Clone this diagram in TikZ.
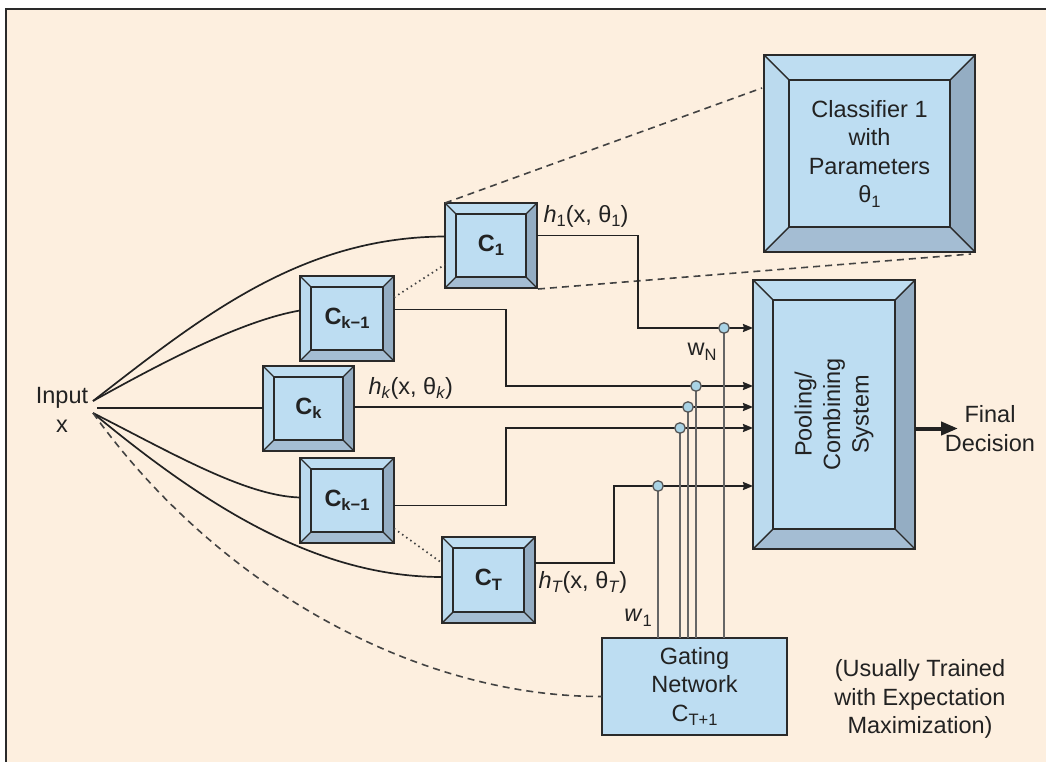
\documentclass[tikz,border=0pt]{standalone}
\usepackage{fontspec}
\setmainfont{Liberation Sans}
\usetikzlibrary{calc,arrows.meta}

\definecolor{paper}{HTML}{FDEFDF}
\definecolor{face}{HTML}{BDDDF2}
\definecolor{bvtop}{HTML}{BEDDF1}
\definecolor{bvleft}{HTML}{BBDAEE}
\definecolor{bvright}{HTML}{94ADC3}
\definecolor{bvbottom}{HTML}{A4BDD3}
\definecolor{ink}{HTML}{222222}
\definecolor{edge}{HTML}{2A2A2A}
\definecolor{gatefill}{HTML}{A9D3E5}
\definecolor{tap}{HTML}{666666}

% text size and lowered subscripts
\newcommand\txt{\fontsize{23.5}{28.5}\selectfont}
\newcommand\lo[1]{\raisebox{-4.5pt}{\fontsize{16.5}{16.5}\selectfont #1}}

% bevelled frame around a named box node, #2 = bevel depth
\newcommand\bevel[2]{%
  \path[fill=bvtop] (#1.north west) -- (#1.north east) -- ($(#1.north east)+(-#2,#2)$) -- ($(#1.north west)+(#2,#2)$) -- cycle;
  \path[fill=bvright] (#1.north east) -- (#1.south east) -- ($(#1.south east)+(-#2,-#2)$) -- ($(#1.north east)+(-#2,#2)$) -- cycle;
  \path[fill=bvbottom] (#1.south west) -- (#1.south east) -- ($(#1.south east)+(-#2,-#2)$) -- ($(#1.south west)+(#2,-#2)$) -- cycle;
  \path[fill=bvleft] (#1.north west) -- (#1.south west) -- ($(#1.south west)+(#2,-#2)$) -- ($(#1.north west)+(#2,#2)$) -- cycle;
  \draw[bvline] (#1.north west) -- ($(#1.north west)+(#2,#2)$)
                (#1.north east) -- ($(#1.north east)+(-#2,#2)$)
                (#1.south east) -- ($(#1.south east)+(-#2,-#2)$)
                (#1.south west) -- ($(#1.south west)+(#2,-#2)$);
  \draw[bvline] ($(#1.north west)+(#2,#2)$) rectangle ($(#1.south east)+(-#2,-#2)$);
  \draw[bvouter] (#1.north west) rectangle (#1.south east);
}

\tikzset{
  every node/.style={font=\txt, text=ink},
  boxnode/.style={rectangle, inner sep=0pt, outer sep=0pt, fill=face, draw=none},
  cbox/.style={boxnode, minimum width=93pt, minimum height=86pt, font=\txt\bfseries},
  bvline/.style={draw=edge, line width=1.4pt},
  bvouter/.style={draw=edge, line width=1.8pt},
  feed/.style={draw=ink, line width=1.7pt},
  wire/.style={draw=ink, line width=1.8pt},
  arrowwire/.style={wire, -{Stealth[length=10pt,width=8pt,inset=1pt]}},
  tapwire/.style={draw=tap, line width=1.7pt},
  tapdot/.style={circle, minimum size=10.5pt, inner sep=0pt, fill=gatefill, draw=edge!80, line width=1.3pt},
  dashline/.style={draw=ink!85, line width=1.6pt, dash pattern=on 7pt off 5pt},
  dotline/.style={draw=ink!85, line width=1.7pt, dash pattern=on 1.5pt off 3.5pt},
}

\begin{document}
\begin{tikzpicture}[x=1pt, y=-1pt]
  % page and panel
  \useasboundingbox (0,0) rectangle (1046,762);
  \fill[white] (0,0) rectangle (1046,762);
  \fill[paper] (6,9) rectangle (1046,762);
  \draw[draw=edge, line width=2pt] (6,762) -- (6,9) -- (1046,9);

  % boxes
  \node[cbox, minimum width=92pt, minimum height=85pt] (C1)  at (491,245.5) {C\lo{1}};
  \node[cbox, minimum width=94pt, minimum height=85pt] (Cku) at (347,318.5) {C\lo{k−1}};
  \node[cbox, minimum width=91pt, minimum height=85pt] (Ck)  at (308.5,408.5) {C\lo{k}};
  \node[cbox, minimum width=94pt, minimum height=85pt] (Ckl) at (347,500.5) {C\lo{k−1}};
  \node[cbox, minimum width=93pt, minimum height=86pt] (CT)  at (488.5,580) {C\lo{T}};
  \node[boxnode, minimum width=211pt, minimum height=197pt, align=center] (cls) at (869.5,153.5)
       {Classifier 1\\with\\Parameters\\θ\lo{1}};
  \node[boxnode, minimum width=162pt, minimum height=269pt] (pool) at (834,414.5) {};
  \node[rectangle, minimum width=185pt, minimum height=97pt, inner sep=0pt, outer sep=0pt,
        fill=face, draw=edge, line width=1.8pt, align=center] (gate) at (694.5,686.5)
       {Gating\\Network\\C\lo{T+1}};

  \bevel{C1}{11}
  \bevel{Cku}{11}
  \bevel{Ck}{11}
  \bevel{Ckl}{11}
  \bevel{CT}{11}
  \bevel{cls}{25}
  \bevel{pool}{20}
  \node[rotate=90, align=center] (pooltxt) at (pool.center) {Pooling/\\Combining\\System};

  % input and its feeds
  \node[align=center] (in) at (62,410) {Input\\x};
  \coordinate (sU) at (93,401);
  \coordinate (sM) at (97,408);
  \coordinate (sL) at (93,413);
  \draw[feed] (sU) .. controls (200,318) and (300,237) .. ($(C1.west)+(0,-9)$);
  \draw[feed] (sU) .. controls (170,358) and (245,320) .. ($(Cku.west)+(0,-8)$);
  \draw[feed] (sM) -- (Ck.west |- sM);
  \draw[feed] (sL) .. controls (170,452) and (245,496) .. ($(Ckl.west)+(0,-3)$);
  \draw[feed] (sL) .. controls (210,510) and (320,577) .. ($(CT.west)+(0,-3)$);
  \draw[dashline] (sL) .. controls (220,590) and (420,697) .. ($(gate.west)+(0,10)$);

  % zoom lines and ellipsis dots
  \draw[dashline] (C1.north west) -- ($(cls.north west)+(-2,33)$);
  \draw[dashline] ($(C1.south east)+(1,1)$) -- ($(cls.south east)+(-4,2)$);
  \draw[dotline] ($(Cku.east)+(0,-21)$) -- ($(C1.west)+(0,19)$);
  \draw[dotline] ($(Ckl.east)+(0,28)$) -- ($(CT.west)+(0,-17)$);

  % gate tap points
  \coordinate (p1) at (658,486);
  \coordinate (p2) at (680,428);
  \coordinate (p3) at (688,407);
  \coordinate (p4) at (696,386);
  \coordinate (p5) at (724,328);

  % classifier outputs into the pooling system
  \draw[arrowwire] ($(C1.east)+(0,-10)$) -- ++(101,0) |- (pool.west |- p5);
  \draw[arrowwire] ($(Cku.east)+(0,-9)$) -- ++(112,0) |- (pool.west |- p4);
  \draw[arrowwire] (Ck.east |- p3) -- (pool.west |- p3);
  \draw[arrowwire] ($(Ckl.east)+(0,5)$) -- ++(112,0) |- (pool.west |- p2);
  \draw[arrowwire] ($(CT.east)+(0,-17)$) -- ++(79,0) |- (pool.west |- p1);

  % gating weights
  \foreach \p in {p1,p2,p3,p4,p5} {
    \draw[tapwire] (gate.north -| \p) -- (\p);
  }
  \node[tapdot] (t1) at (p1) {};
  \node[tapdot] (t2) at (p2) {};
  \node[tapdot] (t3) at (p3) {};
  \node[tapdot] (t4) at (p4) {};
  \node[tapdot] (t5) at (p5) {};

  % final output
  \node[align=center] (out) at (990,428.5) {Final\\Decision};
  \draw[draw=ink, line width=4pt, -{Triangle[length=17pt,width=13pt]}] (pool.east |- out) -- ++(43,0) coordinate (outtip);

  % labels
  \node[anchor=west] (h1) at (540,216) {\textit{h}\lo{1}(x, θ\lo{1})};
  \node[anchor=west] (hk) at (365,388) {\textit{h}\lo{\textit{k}}(x, θ\lo{\textit{k}})};
  \node[anchor=west] (hT) at (535,582) {\textit{h}\lo{\textit{T}}(x, θ\lo{\textit{T}})};
  \node (wN) at (702,352) {w\lo{N}};
  \node (w1) at (638,618) {\textit{w}\lo{1}};
  \node[align=center] (note) at (920,699) {(Usually Trained\\with Expectation\\Maximization)};
\end{tikzpicture}
\end{document}
